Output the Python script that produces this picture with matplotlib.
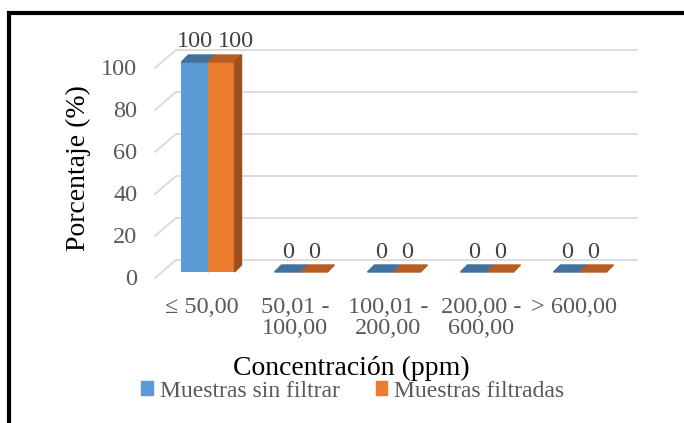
import matplotlib
matplotlib.use("Agg")
import matplotlib.pyplot as plt
from matplotlib.patches import Polygon, Patch, Rectangle
from matplotlib.transforms import ScaledTranslation

categories = ["≤ 50,00", "50,01 -\n100,00", "100,01 -\n200,00", "200,00 -\n600,00", "> 600,00"]
sin_filtrar = [100, 0, 0, 0, 0]
filtradas = [100, 0, 0, 0, 0]
series_names = ["Muestras sin filtrar", "Muestras filtradas"]
y_ticks = [0, 20, 40, 60, 80, 100]

W, H = 684, 423
plt.rcParams["font.family"] = ["Liberation Serif", "DejaVu Serif"]

fig = plt.figure(figsize=(W / 100, H / 100), dpi=100)

# axes box = front plane of the bars, in pixels
x_left, x_right, y_bot, y_top = 165, 627, 151, 361
c0, step = 208, 93
ax = fig.add_axes([x_left / W, y_bot / H, (x_right - x_left) / W, (y_top - y_bot) / H])
ax.set_xlim((x_left - c0) / step, (x_right - c0) / step)
ax.set_ylim(0, 100)
for s in ax.spines.values():
    s.set_visible(False)
ax.patch.set_visible(False)

px_x = step            # pixels per x unit
px_y = (y_top - y_bot) / 100.0

def px(dx, dy):
    return dx / px_x, dy / px_y

# back wall gridlines and left wall diagonals
bx, by = px(11, 12)
fx, fy = px(-10, -6)
x0, x1 = ax.get_xlim()
for v in y_ticks:
    ax.plot([x0 + bx, x1 + bx], [v + by, v + by], color="#D9D9D9", lw=1.3,
            clip_on=False, zorder=0.5, solid_capstyle="butt")
    ax.plot([x0 + fx, x0 + bx], [v + fy, v + by], color="#D9D9D9", lw=1.3,
            clip_on=False, zorder=0.5)

width = 0.285
dx, dy = px(7, 7)
colors = [("#5B9BD5", "#41719C", "#41719C"), ("#ED7D31", "#B55D22", "#9E4F1B")]
pos = list(range(len(categories)))

for k, vals in enumerate([sin_filtrar, filtradas]):
    front, top, side = colors[k]
    xs = [p + (k - 0.5) * width for p in pos]
    bars = ax.bar(xs, vals, width=width, color=front, zorder=3, label=series_names[k])
    for b, v in zip(bars, vals):
        xa, xb = b.get_x(), b.get_x() + b.get_width()
        ax.add_patch(Polygon([(xa, v), (xb, v), (xb + dx, v + dy), (xa + dx, v + dy)],
                             closed=True, color=top, zorder=3, clip_on=False))
        if v > 0:
            ax.add_patch(Polygon([(xb, 0), (xb + dx, dy), (xb + dx, v + dy), (xb, v)],
                                 closed=True, color=side, zorder=2 + k, clip_on=False))
        nudge = 15 if (k == 1 and v >= 100) else 0
        ax.annotate(str(v), (b.get_x() + b.get_width() / 2, v), xytext=(nudge * 0.72, 20 * 0.72),
                    textcoords="offset points", ha="center", va="center",
                    fontsize=17.5, color="#404040", zorder=5, annotation_clip=False)

ax.set_yticks(y_ticks)
ax.set_yticklabels([str(t) for t in y_ticks], fontsize=17.5, color="#595959")
ax.tick_params(axis="y", length=0, pad=20)
for lab in ax.get_yticklabels():
    lab.set_transform(lab.get_transform() + ScaledTranslation(0, -5 / 100, fig.dpi_scale_trans))

ax.set_xticks(pos)
ax.set_xticklabels(categories, fontsize=17.5, color="#595959", linespacing=1.0)
ax.tick_params(axis="x", length=0, pad=18)
for lab in ax.get_xticklabels():
    lab.set_transform(lab.get_transform() + ScaledTranslation(-6 / 100, 0, fig.dpi_scale_trans))

fig.text(78 / W, (H - 168) / H, "Porcentaje (%)", rotation=90, fontsize=20,
         ha="center", va="center", color="black")
fig.text(351 / W, (H - 375) / H, "Concentración (ppm)", fontsize=20,
         ha="center", va="baseline", color="black")

handles = [Patch(color=colors[0][0]), Patch(color=colors[1][0])]
fig.legend(handles, series_names, loc="center", bbox_to_anchor=(353 / W, (H - 391) / H),
           ncol=2, frameon=False, fontsize=17, handlelength=0.5, handleheight=0.5,
           handletextpad=0.3, columnspacing=1.5, labelcolor="#595959", borderpad=0)

# outer chart border
fig.add_artist(Rectangle((9 / W, -0.1), 2, (H - 13.5) / H + 0.1, transform=fig.transFigure,
                         fill=False, lw=3, edgecolor="black"))

fig.savefig("out.png", dpi=100, facecolor="white")
